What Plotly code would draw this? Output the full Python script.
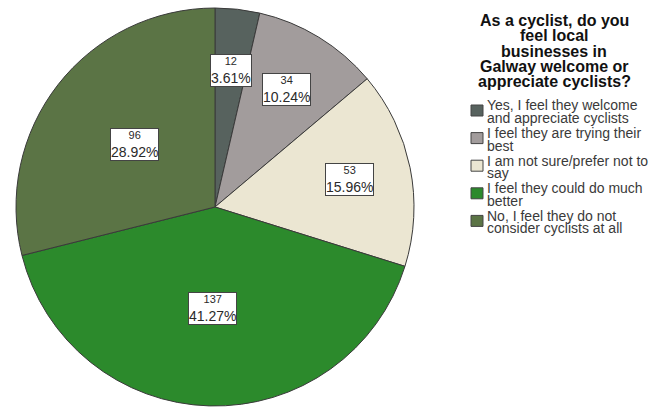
import math
import plotly.graph_objects as go

categories = [
    "Yes, I feel they welcome<br>and appreciate cyclists",
    "I feel they are trying their<br>best",
    "I am not sure/prefer not to<br>say",
    "I feel they could do much<br>better",
    "No, I feel they do not<br>consider cyclists at all",
]
counts = [12, 34, 53, 137, 96]
colors = ["#57625e", "#a29c9c", "#ebe6d2", "#2c8a2c", "#5b7445"]
legend_title = [
    "As a cyclist, do you",
    "feel local",
    "businesses in",
    "Galway welcome or",
    "appreciate cyclists?",
]

W, H = 650, 408
FONT = "Liberation Sans, Arial, sans-serif"
# pie placement in pixels
cx, cy, R = 215, 207, 199


def px2paper(x, y):
    return x / W, 1 - y / H


fig = go.Figure(go.Pie(
    labels=[c.replace("<br>", " ") for c in categories],
    values=counts,
    sort=False,
    direction="clockwise",
    rotation=0,
    marker=dict(colors=colors, line=dict(color="#3a3a3a", width=1)),
    textinfo="none",
    hoverinfo="label+value+percent",
    showlegend=False,
    domain=dict(x=[(cx - R) / W, (cx + R) / W], y=[(H - cy - R) / H, (H - cy + R) / H]),
))

# boxed count / percentage labels placed at each slice's mid-angle
total = sum(counts)
cum = 0
for v in counts:
    share = v / total
    mid = (cum + v / 2) / total * 2 * math.pi
    cum += v
    rf = 0.51 if share > 0.25 else 0.69
    x, y = px2paper(cx + rf * R * math.sin(mid), cy - rf * R * math.cos(mid))
    fig.add_annotation(
        x=x, y=y, xref="paper", yref="paper", xanchor="center", yanchor="middle",
        text=f"<span style='font-size:11px'>{v}</span><br>{share * 100:.2f}%",
        showarrow=False,
        font=dict(family=FONT, size=14, color="#2a2a2a"),
        bgcolor="white", bordercolor="#444", borderwidth=1, borderpad=0,
        align="center",
    )

# legend title, one line at a time for tight spacing
for i, line in enumerate(legend_title):
    x, y = px2paper(554, 20 + 15.5 * i)
    fig.add_annotation(
        x=x, y=y, xref="paper", yref="paper", xanchor="center", yanchor="middle",
        text=f"<b>{line}</b>", showarrow=False,
        font=dict(family=FONT, size=16, color="#111"),
    )

# legend swatches and two-line entries
for i, (cat, col) in enumerate(zip(categories, colors)):
    top = 105 + 27.6 * i
    x0, y0 = px2paper(471, top)
    x1, y1 = px2paper(483, top + 11)
    fig.add_shape(type="rect", xref="paper", yref="paper",
                  x0=x0, x1=x1, y0=y1, y1=y0,
                  fillcolor=col, line=dict(color="#444", width=1))
    for j, line in enumerate(cat.split("<br>")):
        x, y = px2paper(485, top + 0.5 + 12.5 * j)
        fig.add_annotation(
            x=x, y=y, xref="paper", yref="paper", xanchor="left", yanchor="middle",
            text=line, showarrow=False,
            font=dict(family=FONT, size=14, color="#3a3a3a"),
        )

fig.update_layout(
    width=W, height=H,
    margin=dict(l=0, r=0, t=0, b=0),
    paper_bgcolor="white",
    plot_bgcolor="white",
    font=dict(family=FONT, color="#333"),
    showlegend=False,
)

fig.write_html("out.html")
